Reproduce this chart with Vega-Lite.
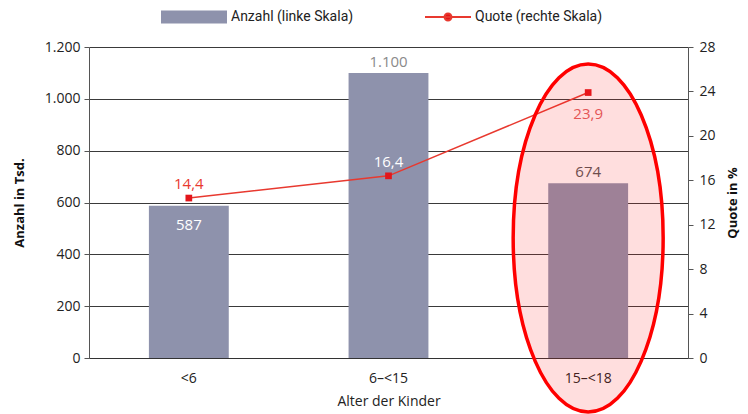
{
  "$schema": "https://vega.github.io/schema/vega-lite/v6.json",
  "width": 599,
  "height": 311,
  "autosize": {"type": "none"},
  "padding": {"left": 89, "top": 47, "right": 60, "bottom": 56},
  "background": "white",
  "config": {
    "locale": {"number": {"decimal": ",", "thousands": ".", "grouping": [3], "currency": ["", " €"]}},
    "view": {"stroke": null},
    "font": "Open Sans"
  },
  "data": {
    "values": [
      {"Alter": "<6", "Anzahl": 587, "Quote": 14.4},
      {"Alter": "6–<15", "Anzahl": 1100, "Quote": 16.4},
      {"Alter": "15–<18", "Anzahl": 674, "Quote": 23.9}
    ]
  },
  "encoding": {
    "x": {
      "field": "Alter", "type": "nominal", "sort": null,
      "scale": {"paddingInner": 0.6, "paddingOuter": 0.3},
      "axis": {
        "title": "Alter der Kinder", "titleFontSize": 14, "titleFontWeight": "normal", "titleColor": "#222",
        "labelAngle": 0, "labelFontSize": 14, "labelColor": "#222", "ticks": false, "labelPadding": 13,
        "domain": true, "domainColor": "#333", "titlePadding": 9
      }
    }
  },
  "layer": [
    {
      "encoding": {
        "y": {
          "field": "Anzahl", "type": "quantitative",
          "scale": {"domain": [0, 1200], "nice": false},
          "axis": {
            "title": "Anzahl in Tsd.", "titleFontSize": 13, "titleFontWeight": "bold", "titleColor": "#111",
            "values": [0, 200, 400, 600, 800, 1000, 1200], "format": ",.0f",
            "labelFontSize": 14, "labelColor": "#222", "labelPadding": 4, "tickSize": 5, "tickColor": "#555",
            "domainColor": "#555", "grid": true, "gridColor": "#3a3a3a", "gridWidth": 1, "titlePadding": 18
          }
        }
      },
      "layer": [
        {
          "mark": {"type": "bar"},
          "encoding": {
            "fill": {
              "datum": "Anzahl (linke Skala)",
              "scale": {"range": ["#8e92ac"]},
              "legend": {
                "orient": "none", "legendX": 71, "legendY": -64, "title": null,
                "symbolType": "M-1,-0.2H1V0.2H-1Z", "symbolSize": 4356, "symbolOpacity": 1,
                "labelFontSize": 14, "labelFont": "Roboto", "labelColor": "#222", "labelOffset": 3
              }
            }
          }
        },
        {
          "transform": [{"filter": "datum.Alter == '<6'"}],
          "mark": {"type": "text", "dy": 19, "fontSize": 15, "color": "white"},
          "encoding": {"text": {"field": "Anzahl", "type": "quantitative", "format": ",.0f"}}
        },
        {
          "transform": [{"filter": "datum.Alter != '<6'"}],
          "mark": {"type": "text", "dy": -11, "fontSize": 15},
          "encoding": {
            "text": {"field": "Anzahl", "type": "quantitative", "format": ",.0f"},
            "color": {"condition": {"test": "datum.Alter == '6–<15'", "value": "#8a8a8a"}, "value": "#555555"}
          }
        }
      ]
    },
    {
      "encoding": {
        "y": {
          "field": "Quote", "type": "quantitative",
          "scale": {"domain": [0, 28], "nice": false},
          "axis": {
            "orient": "right", "title": "Quote in %", "titleFontSize": 13, "titleFontWeight": "bold", "titleColor": "#111",
            "titleAngle": 270, "values": [0, 4, 8, 12, 16, 20, 24, 28],
            "labelFontSize": 14, "labelColor": "#222", "labelPadding": 6, "tickSize": 5, "tickColor": "#555",
            "domainColor": "#555", "grid": false, "titlePadding": 24
          }
        }
      },
      "layer": [
        {
          "mark": {"type": "line", "strokeWidth": 1.5},
          "encoding": {
            "stroke": {
              "datum": "Quote (rechte Skala)",
              "scale": {"range": ["#e8392f"]},
              "legend": {
                "orient": "none", "legendX": 335, "legendY": -54, "title": null,
                "symbolType": "M-1,0H1M-0.15,0A0.15,0.15,0,1,0,0.15,0A0.15,0.15,0,1,0,-0.15,0Z",
                "symbolSize": 2116, "symbolStrokeWidth": 2, "symbolFillColor": "#e3161b",
                "labelFontSize": 14, "labelFont": "Roboto", "labelColor": "#222", "labelOffset": 3
              }
            }
          }
        },
        {
          "mark": {"type": "point", "shape": "square", "filled": true, "size": 45, "color": "#e3161b", "opacity": 1}
        },
        {
          "transform": [{"filter": "datum.Alter != '15–<18'"}],
          "mark": {"type": "text", "dy": -14, "fontSize": 15},
          "encoding": {
            "text": {"field": "Quote", "type": "quantitative", "format": ".1f"},
            "color": {"condition": {"test": "datum.Alter == '<6'", "value": "#e8392f"}, "value": "#ffffff"}
          }
        },
        {
          "transform": [{"filter": "datum.Alter == '15–<18'"}],
          "mark": {"type": "text", "dy": 21, "fontSize": 15, "color": "#e06060"},
          "encoding": {"text": {"field": "Quote", "type": "quantitative", "format": ".1f"}}
        },
        {
          "transform": [{"filter": "datum.Alter == '15–<18'"}],
          "mark": {
            "type": "point", "filled": true,
            "shape": "M0,-1A0.431,1,0,1,1,0,1A0.431,1,0,1,1,0,-1Z",
            "size": 121104, "fill": "#ff2020", "fillOpacity": 0.15,
            "stroke": "#ff0000", "strokeWidth": 3.5, "strokeOpacity": 1, "opacity": 1
          },
          "encoding": {"y": {"datum": 10.8}}
        }
      ]
    }
  ],
  "resolve": {"scale": {"y": "independent"}}
}
